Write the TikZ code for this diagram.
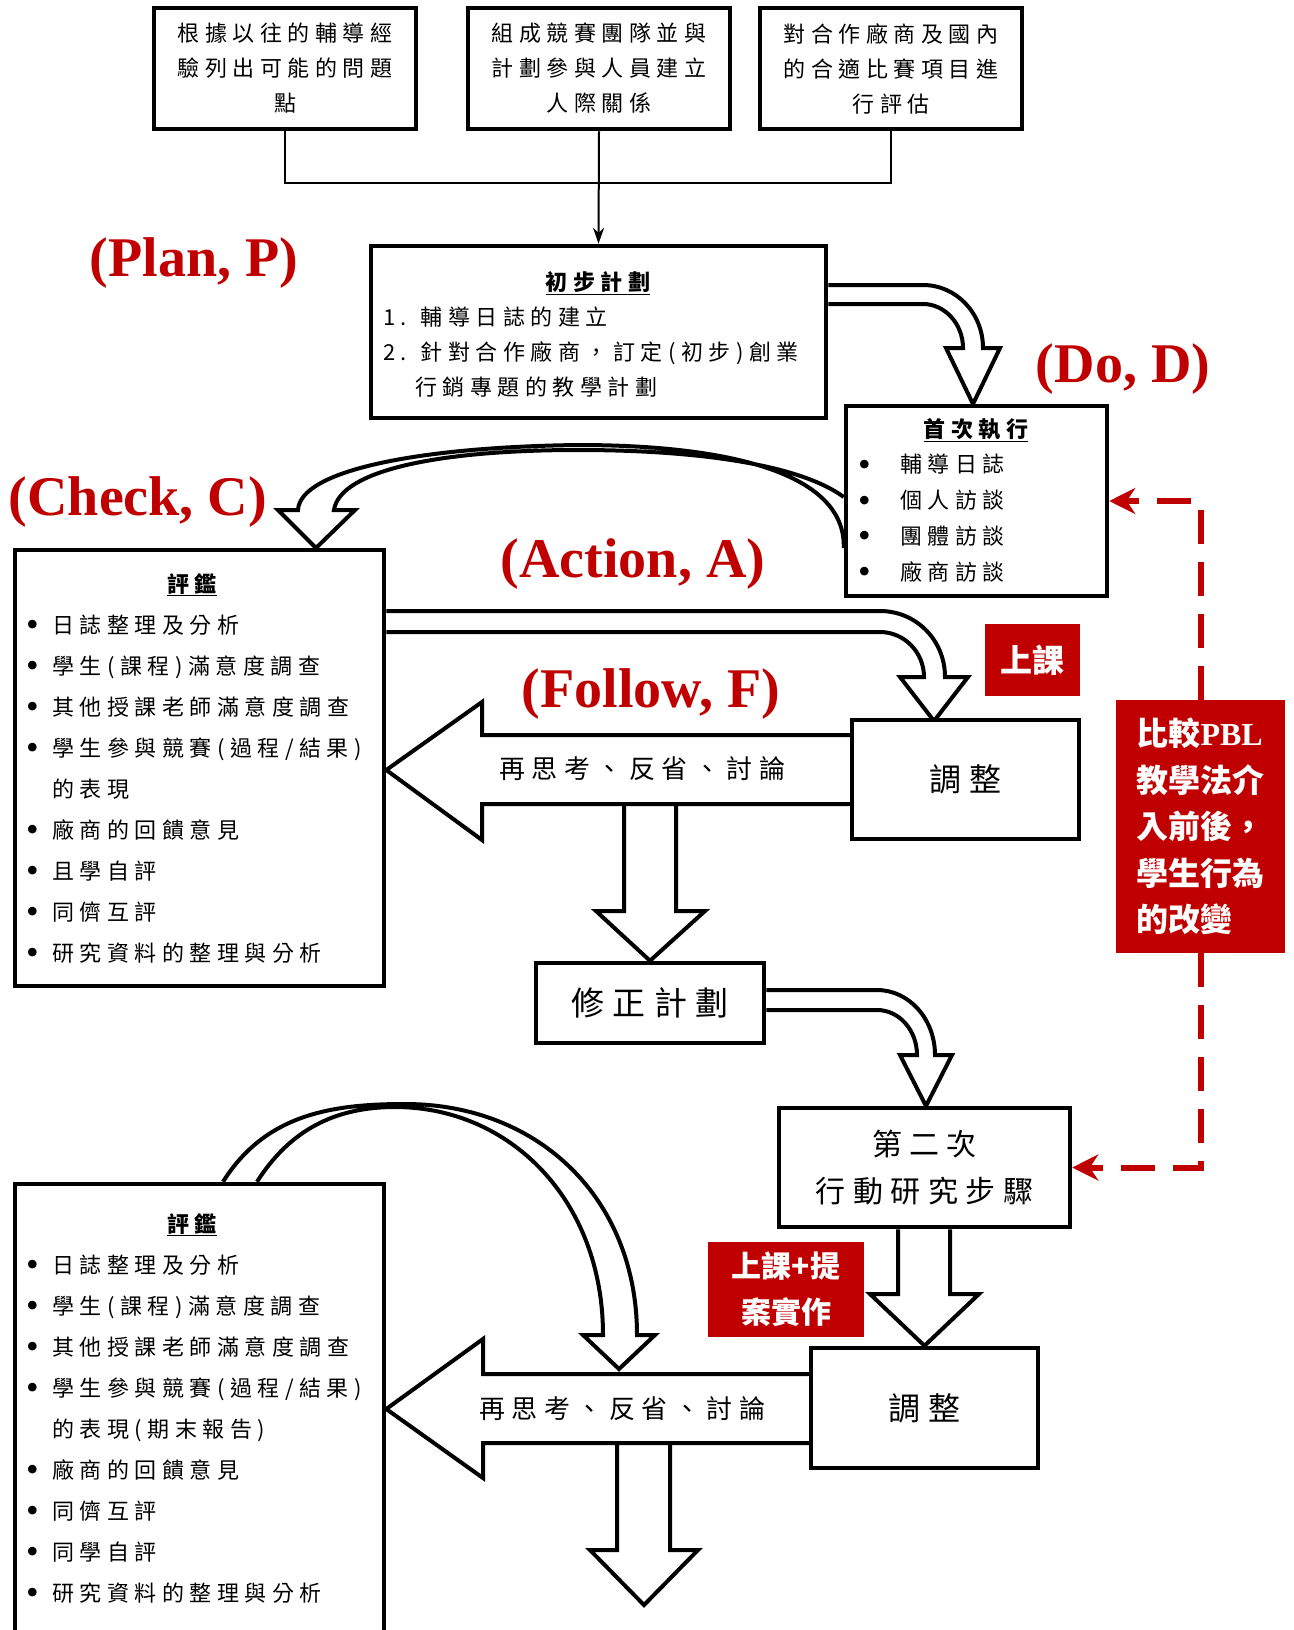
\documentclass[tikz,border=0pt]{standalone}
\usepackage{fontspec}
\setmainfont{Liberation Serif}
\newfontfamily\cjk[LetterSpace=25]{Noto Sans CJK TC}
\newfontfamily\cjkplain{Noto Sans CJK TC}
\usetikzlibrary{arrows.meta,backgrounds}
\definecolor{darkred}{HTML}{C00000}

\newcommand{\bul}[1][26pt]{\makebox[#1][l]{\raisebox{-3.5pt}{\rmfamily\fontsize{36}{36}\selectfont\textbullet}}}

\tikzstyle{box} = [draw, line width=4.5pt, fill=white, inner sep=0pt, align=center, font=\cjk\fontsize{22}{35}\selectfont]
\tikzstyle{list} = [inner sep=0pt, align=left, anchor=north west]
\tikzstyle{redbox} = [fill=darkred, text=white, inner sep=0pt, font=\cjkplain\bfseries\fontsize{32}{46.5}\selectfont]
\tikzstyle{stage} = [text=darkred, inner sep=0pt, font=\bfseries\fontsize{56}{60}\selectfont]

\begin{document}
\begin{tikzpicture}[x=1pt, y=-1pt]
  \tikzset{hollow/.style={draw, line width=4pt, fill=white},
           link/.style={line width=2pt},
           reddash/.style={draw=darkred, line width=6pt, dash pattern=on 34pt off 18pt, -{Stealth[length=26pt,width=26pt]}}}
  \path[use as bounding box, clip] (0,0) rectangle (1293,1630);

  \node[box, minimum width=262, minimum height=121] (t1) at (285,68.5) {根據以往的輔導經\\驗列出可能的問題\\點};
  \node[box, minimum width=262, minimum height=121] (t2) at (599,68.5) {組成競賽團隊並與\\計劃參與人員建立\\人際關係};
  \node[box, minimum width=262, minimum height=121] (t3) at (891,68.5) {對合作廠商及國內\\的合適比賽項目進\\行評估};

  \node[box, minimum width=455, minimum height=172] (plan) at (598.5,332) {};
  \node[list, font=\cjk\fontsize{22}{35}\selectfont] (plantext) at (383,271) {\makebox[430pt]{\underline{\bfseries 初步計劃}}\\
    1. 輔導日誌的建立\\
    2. 針對合作廠商，訂定(初步)創業\\
    \hspace*{32pt}行銷專題的教學計劃};

  \node[box, minimum width=261, minimum height=190] (do) at (976.5,501) {};
  \node[list, font=\cjk\fontsize{22}{35.7}\selectfont] (dotext) at (858,418) {\makebox[236pt]{\underline{\bfseries 首次執行}}\\
    \bul[42pt]輔導日誌\\
    \bul[42pt]個人訪談\\
    \bul[42pt]團體訪談\\
    \bul[42pt]廠商訪談};

  \node[box, minimum width=369, minimum height=436] (eval1) at (199.5,768) {};
  \node[list, font=\cjk\fontsize{22}{41}\selectfont] (evaltext1) at (26,573) {\makebox[332pt]{\underline{\bfseries 評鑑}}\\
    \bul 日誌整理及分析\\
    \bul 學生(課程)滿意度調查\\
    \bul 其他授課老師滿意度調查\\
    \bul 學生參與競賽(過程/結果)\\
    \hspace*{26pt}的表現\\
    \bul 廠商的回饋意見\\
    \bul 且學自評\\
    \bul 同儕互評\\
    \bul 研究資料的整理與分析};

  \node[box, minimum width=369, minimum height=476] (eval2) at (199.5,1422) {};
  \node[list, font=\cjk\fontsize{22}{41}\selectfont] (evaltext2) at (26,1213) {\makebox[332pt]{\underline{\bfseries 評鑑}}\\
    \bul 日誌整理及分析\\
    \bul 學生(課程)滿意度調查\\
    \bul 其他授課老師滿意度調查\\
    \bul 學生參與競賽(過程/結果)\\
    \hspace*{26pt}的表現(期末報告)\\
    \bul 廠商的回饋意見\\
    \bul 同儕互評\\
    \bul 同學自評\\
    \bul 研究資料的整理與分析};

  \node[box, minimum width=227, minimum height=119, font=\cjk\fontsize{32}{40}\selectfont] (adjust1) at (965.5,779.5) {調整};
  \node[box, minimum width=228, minimum height=80, font=\cjk\fontsize{33}{40}\selectfont] (revise) at (650,1003) {修正計劃};
  \node[box, minimum width=291, minimum height=119, font=\cjk\fontsize{30}{47}\selectfont] (second) at (924.5,1167.5) {第二次\\行動研究步驟};
  \node[box, minimum width=227, minimum height=120, font=\cjk\fontsize{32}{40}\selectfont] (adjust2) at (924.5,1408) {調整};

  \node[redbox, minimum width=95, minimum height=72] (class1) at (1032.5,660) {上課};
  \node[redbox, minimum width=156, minimum height=95, align=center, font=\cjkplain\bfseries\fontsize{30}{46}\selectfont] (class2) at (786,1289.5) {上課+提\\案實作};
  \node[redbox, minimum width=169, minimum height=253, align=left] (pbl) at (1200.5,826.5) {比較{\rmfamily PBL}\\教學法介\\入前後，\\學生行為\\的改變};

  \node[font=\cjk\fontsize{26}{30}\selectfont, inner sep=0pt] (think1) at (642,769) {再思考、反省、討論};
  \node[font=\cjk\fontsize{26}{30}\selectfont, inner sep=0pt] (think2) at (622,1409) {再思考、反省、討論};

  \node[stage] (plabel) at (194,263) {(Plan, P)};
  \node[stage] (dlabel) at (1123,369) {(Do, D)};
  \node[stage] (clabel) at (138,502) {(Check, C)};
  \node[stage] (alabel) at (633,564) {(Action, A)};
  \node[stage] (flabel) at (651,694) {(Follow, F)};

  \coordinate (join) at (599,183);
  \draw[link] (t1.south) |- (join) -| (t3.south);
  \draw[link, -{Stealth[length=16pt,width=11pt]}] (t2.south) -- (plan.north);

  \draw[reddash] (pbl.north) |- (do.east);
  \draw[reddash] (pbl.south) |- (second.east);

  \begin{scope}[on background layer]
    \draw[hollow] (plan.east |- 0,285) -- (923,285) .. controls (956,285) and (983,313) .. (983,348) -- (1000,348) -- (973,404) -- (946,348) -- (963,348) .. controls (963,324) and (945,304) .. (923,304) -- (plan.east |- 0,304);
    \draw[hollow] (do.west |- 0,548) .. controls (846,470) and (720,445) .. (578,445) .. controls (420,447) and (300,470) .. (298,510) -- (278,510) -- (316,548) -- (355,510) -- (334,510) .. controls (340,470) and (440,450) .. (578,450) .. controls (700,450) and (800,465) .. (do.west |- 0,497);
    \draw[hollow] (eval1.east |- 0,611) -- (880,611) .. controls (916,611) and (945,640) .. (945,677) -- (968,677) -- (934,721) -- (900,677) -- (924,677) .. controls (924,652) and (904,632) .. (880,632) -- (eval1.east |- 0,632);
    \draw[hollow] (revise.east |- 0,990) -- (877,990) .. controls (909,990) and (935,1019) .. (935,1055) -- (952,1055) -- (926,1106) -- (900,1055) -- (917,1055) .. controls (917,1030) and (899,1010) .. (877,1010) -- (revise.east |- 0,1010);
    \draw[hollow] (eval2.north -| 257,0) .. controls (290,1130) and (335,1107) .. (395,1107) .. controls (510,1107) and (603,1200) .. (603,1335) -- (583,1335) -- (619,1369) -- (655,1335) -- (637,1335) .. controls (637,1200) and (540,1104) .. (405,1104) .. controls (330,1104) and (265,1115) .. (eval2.north -| 223,0);
    \draw[hollow] (second.south -| 898,0) -- (898,1294) -- (870,1294) -- (adjust2.north) -- (979,1294) -- (950,1294) -- (second.south -| 950,0);
    \draw[hollow] (624,804) -- (624,911) -- (596,911) -- (revise.north) -- (705,911) -- (676,911) -- (676,804);
    \draw[hollow] (617,1443) -- (617,1550) -- (590,1550) -- (644,1605) -- (698,1550) -- (670,1550) -- (670,1443);
    \draw[hollow] (adjust1.west |- 0,735) -- (482,735) -- (482,702) -- (eval1.east |- 0,770) -- (482,840) -- (482,804) -- (adjust1.west |- 0,804);
    \draw[hollow] (adjust2.west |- 0,1374) -- (483,1374) -- (483,1339) -- (eval2.east |- 0,1409) -- (483,1478) -- (483,1443) -- (adjust2.west |- 0,1443);
  \end{scope}
\end{tikzpicture}
\end{document}
